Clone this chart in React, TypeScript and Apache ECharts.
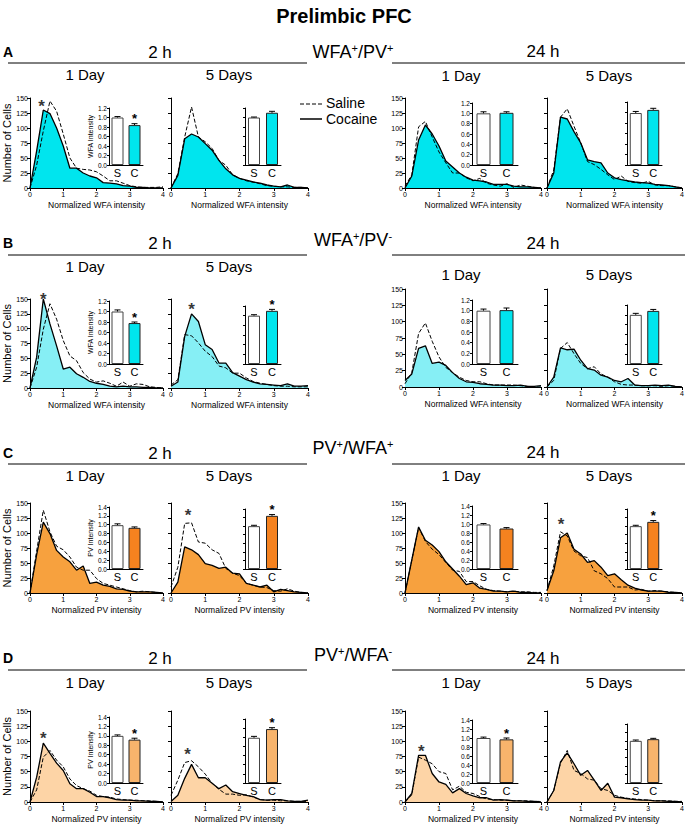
import React, { useEffect, useRef } from "react";
import * as echarts from "echarts";

// ---------- DATA ----------
const xBins = [0, 0.2, 0.4, 0.6, 0.8, 1.0, 1.2, 1.4, 1.6, 1.8, 2.0, 2.2, 2.4, 2.6, 2.8, 3.0, 3.2, 3.4, 3.6, 3.8, 4.0];

// Row A: WFA+/PV+
const a1Cocaine = [0, 62, 130, 124, 100, 70, 33, 33, 25, 20, 17, 9, 8, 7, 4, 3, 1, 1, 0, 0, 0];
const a1Saline = [0, 38, 95, 145, 128, 90, 50, 33, 31, 30, 27, 20, 12, 12, 8, 4, 2, 1, 1, 1, 2];
const a2Cocaine = [0, 21, 82, 90, 85, 74, 63, 46, 32, 22, 16, 13, 10, 8, 5, 3, 2, 5, 1, 1, 0];
const a2Saline = [0, 24, 85, 135, 85, 77, 66, 46, 38, 22, 16, 12, 10, 7, 4, 3, 2, 2, 1, 1, 0];
const a3Cocaine = [0, 20, 80, 105, 90, 70, 45, 35, 25, 18, 13, 12, 10, 6, 6, 6, 3, 2, 2, 1, 0];
const a3Saline = [3, 22, 102, 111, 85, 60, 42, 25, 25, 17, 12, 16, 8, 5, 3, 7, 1, 5, 3, 1, 0];
const a4Cocaine = [0, 25, 118, 115, 94, 75, 47, 44, 42, 25, 17, 14, 12, 10, 9, 8, 6, 5, 4, 2, 0];
const a4Saline = [0, 30, 118, 132, 103, 75, 44, 39, 31, 22, 14, 20, 11, 9, 8, 11, 5, 4, 4, 2, 0];

// Row B: WFA+/PV-
const b1Cocaine = [0, 52, 150, 108, 71, 32, 35, 24, 18, 11, 8, 6, 3, 2, 3, 2, 2, 1, 1, 0, 0];
const b1Saline = [0, 35, 99, 142, 116, 80, 54, 46, 26, 15, 10, 12, 8, 3, 10, 3, 7, 6, 2, 1, 0];
const b2Cocaine = [3, 10, 87, 125, 112, 73, 65, 42, 42, 26, 20, 14, 10, 7, 6, 5, 4, 7, 3, 3, 4];
const b2Saline = [5, 14, 90, 88, 76, 62, 53, 37, 34, 25, 25, 17, 11, 8, 6, 4, 3, 3, 2, 2, 2];
const b3Cocaine = [10, 20, 59, 63, 36, 38, 33, 22, 13, 8, 7, 5, 4, 3, 3, 2, 2, 3, 1, 1, 2];
const b3Saline = [5, 22, 82, 98, 70, 46, 30, 22, 15, 10, 8, 8, 5, 3, 3, 3, 3, 2, 1, 0, 0];
const b4Cocaine = [0, 15, 60, 57, 58, 41, 28, 26, 18, 15, 10, 8, 13, 3, 2, 2, 3, 2, 3, 1, 0];
const b4Saline = [0, 10, 59, 68, 51, 36, 28, 31, 20, 15, 8, 4, 3, 3, 2, 2, 2, 1, 2, 1, 0];

// Row C: PV+/WFA+
const c1Cocaine = [0, 64, 118, 99, 71, 60, 52, 38, 45, 16, 18, 13, 11, 7, 6, 3, 2, 2, 2, 1, 0];
const c1Saline = [0, 70, 138, 102, 78, 72, 60, 43, 38, 38, 24, 16, 13, 10, 7, 4, 2, 3, 2, 1, 0];
const c2Cocaine = [0, 18, 77, 72, 64, 49, 46, 41, 43, 33, 32, 16, 13, 10, 13, 2, 6, 4, 2, 1, 0];
const c2Saline = [10, 43, 116, 117, 85, 83, 72, 66, 41, 33, 29, 16, 13, 10, 9, 4, 3, 7, 3, 1, 0];
const c3Cocaine = [0, 55, 110, 88, 80, 69, 52, 40, 28, 14, 17, 8, 6, 3, 3, 2, 3, 1, 1, 0, 0];
const c3Saline = [0, 55, 109, 86, 73, 64, 51, 38, 36, 19, 19, 12, 6, 4, 3, 2, 3, 2, 2, 1, 1];
const c4Cocaine = [4, 37, 92, 100, 73, 65, 51, 54, 43, 29, 32, 22, 13, 8, 5, 3, 3, 3, 1, 1, 0];
const c4Saline = [4, 45, 102, 95, 70, 62, 59, 37, 32, 24, 10, 10, 10, 5, 6, 3, 4, 3, 2, 1, 0];

// Row D: PV+/WFA-
const d1Cocaine = [0, 41, 97, 80, 64, 52, 30, 22, 22, 16, 9, 9, 7, 4, 3, 3, 2, 2, 1, 1, 0];
const d1Saline = [0, 20, 74, 85, 69, 58, 38, 27, 22, 18, 11, 9, 8, 5, 4, 3, 3, 2, 2, 1, 0];
const d2Cocaine = [1, 11, 39, 62, 40, 40, 31, 22, 28, 17, 14, 11, 9, 4, 3, 4, 4, 2, 1, 1, 3];
const d2Saline = [11, 36, 65, 68, 58, 46, 31, 21, 13, 13, 11, 12, 8, 4, 3, 3, 2, 2, 1, 1, 1];
const d3Cocaine = [0, 14, 77, 77, 47, 33, 29, 15, 22, 14, 10, 7, 7, 3, 4, 3, 2, 2, 1, 1, 0];
const d3Saline = [0, 12, 74, 69, 63, 50, 47, 20, 26, 16, 14, 9, 5, 4, 3, 3, 2, 2, 2, 1, 1];
const d4Cocaine = [0, 19, 66, 81, 63, 44, 52, 36, 19, 31, 8, 7, 5, 4, 3, 3, 2, 2, 1, 1, 0];
const d4Saline = [0, 19, 64, 85, 52, 47, 38, 36, 22, 19, 11, 8, 6, 5, 4, 3, 2, 2, 2, 1, 1];

// Inset bar values [Saline, Cocaine] per panel column
const insetCategories = ["S", "C"];
const insetA = [[1.0, 0.84], [1.0, 1.1], [1.0, 1.01], [0.99, 1.05]];
const insetB = [[1.0, 0.78], [1.0, 1.1], [1.0, 1.01], [1.0, 1.08]];
const insetC = [[0.99, 0.93], [1.0, 1.24], [0.99, 0.9], [1.0, 1.1]];
const insetD = [[1.0, 0.92], [0.99, 1.18], [1.0, 0.97], [1.0, 1.04]];
const insetErrA = [[0.02, 0.03], [0.01, 0.03], [0.03, 0.02], [0.03, 0.03]];
const insetErrB = [[0.03, 0.02], [0.02, 0.03], [0.03, 0.04], [0.03, 0.03]];
const insetErrC = [[0.03, 0.02], [0.02, 0.03], [0.02, 0.02], [0.02, 0.03]];
const insetErrD = [[0.02, 0.03], [0.03, 0.03], [0.02, 0.03], [0.02, 0.02]];
const insetStarA = [1, 0, 0, 0];
const insetStarB = [1, 1, 0, 0];
const insetStarC = [0, 1, 0, 1];
const insetStarD = [1, 1, 1, 0];

// Histogram significance stars [x, count]
const histStarA = [[0.35, 144], null, null, null];
const histStarB = [[0.4, 158], [0.6, 141], null, null];
const histStarC = [null, [0.5, 137], null, [0.42, 122]];
const histStarD = [[0.4, 113], [0.48, 87], [0.48, 91], null];

const yAxisTitle = "Number of Cells";
const timeLabels = ["2 h", "24 h"];
const dayLabels = ["1 Day", "5 Days"];
const rowLetters = ["A", "B", "C", "D"];
const markerParts = [
  ["WFA", "+", "/PV", "+"],
  ["WFA", "+", "/PV", "-"],
  ["PV", "+", "/WFA", "+"],
  ["PV", "+", "/WFA", "-"],
];
const measureNames = ["WFA", "WFA", "PV", "PV"];
const legendNames = ["Saline", "Cocaine"];

// ---------- LAYOUT / STYLE ----------
const FONT = "'Liberation Sans', Arial, Helvetica, sans-serif";
const FILL = ["#00e5ee", "#86eff5", "#f7a13e", "#fdd4a6"];
const BARC = ["#00e5ee", "#00e5ee", "#f5821f", "#f8b46c"];
const INSET_MAX = [1.2, 1.2, 1.4, 1.4];

const HIST_L = [30, 171, 405, 547];
const HIST_W = [133, 137, 136, 135];
const HIST_TB = [
  [[98, 188], [98, 188], [98, 188], [98, 188]],
  [[299, 388], [299, 388], [289, 387], [289, 387]],
  [[503, 593], [503, 593], [503, 593], [503, 593]],
  [[711, 802], [711, 802], [711, 802], [711, 802]],
];
const INSET_L = [109, 245, 472, 627];
const INSET_W = [34, 36, 46, 35];
const INSET_BW = [12, 12, 14, 12];
const INSET_T = [
  [108, 108, 103, 102],
  [301, 306, 300, 305],
  [507, 509, 506, 509],
  [717, 719, 720, 724],
];
const INSET_B = [165, 364, 569, 783];

const LETTER_Y = [52, 243, 453, 658];
const MARKER_Y = [52, 240, 448, 655];
const TIME_Y = [[52, 51], [243, 243], [453, 452], [658, 658]];
const LINE_Y = [63, 255, 464, 670];
const DAY_Y = [[74, 75], [266, 274], [475, 475], [682, 682]];
const DAY_X = [85, 229, 461, 609];

const histData = [
  [[a1Saline, a1Cocaine], [a2Saline, a2Cocaine], [a3Saline, a3Cocaine], [a4Saline, a4Cocaine]],
  [[b1Saline, b1Cocaine], [b2Saline, b2Cocaine], [b3Saline, b3Cocaine], [b4Saline, b4Cocaine]],
  [[c1Saline, c1Cocaine], [c2Saline, c2Cocaine], [c3Saline, c3Cocaine], [c4Saline, c4Cocaine]],
  [[d1Saline, d1Cocaine], [d2Saline, d2Cocaine], [d3Saline, d3Cocaine], [d4Saline, d4Cocaine]],
];
const insetVals = [insetA, insetB, insetC, insetD];
const insetErrs = [insetErrA, insetErrB, insetErrC, insetErrD];
const insetStars = [insetStarA, insetStarB, insetStarC, insetStarD];
const histStars = [histStarA, histStarB, histStarC, histStarD];

function buildOption() {
  const grids: any[] = [];
  const xAxes: any[] = [];
  const yAxes: any[] = [];
  const series: any[] = [];
  const black = "#000";

  for (let r = 0; r < 4; r++) {
    for (let c = 0; c < 4; c++) {
      // ---- histogram ----
      const gi = grids.length;
      const [top, bottom] = HIST_TB[r][c];
      grids.push({ left: HIST_L[c], top, width: HIST_W[c], height: bottom - top, outerBoundsMode: "none", containLabel: false });
      xAxes.push({
        gridIndex: gi, type: "value", min: 0, max: 4, interval: 1,
        axisLine: { show: true, lineStyle: { color: black, width: 1 } },
        axisTick: { show: true, length: 3, lineStyle: { color: black, width: 1 } },
        axisLabel: { fontSize: 7, margin: 3, color: black, fontFamily: FONT },
        splitLine: { show: false },
        name: "Normalized " + measureNames[r] + " intensity",
        nameLocation: "middle", nameGap: 12,
        nameTextStyle: { fontSize: 8.5, color: black, fontFamily: FONT },
      });
      const showY = c === 0 || c === 2;
      yAxes.push({
        gridIndex: gi, type: "value", min: 0, max: 150, interval: 25,
        axisLine: { show: true, lineStyle: { color: black, width: 1 } },
        axisTick: { show: true, length: 3, lineStyle: { color: black, width: 1 } },
        axisLabel: { show: showY, fontSize: 7, margin: 2, color: black, fontFamily: FONT },
        splitLine: { show: false },
        name: c === 0 ? yAxisTitle : "",
        nameLocation: "middle", nameGap: 17,
        nameTextStyle: { fontSize: 11, color: black, fontFamily: FONT },
      });
      const [sal, coc] = histData[r][c];
      series.push({
        type: "line", xAxisIndex: gi, yAxisIndex: gi, symbol: "none",
        data: xBins.map((x, i) => [x, coc[i]]),
        lineStyle: { color: black, width: 1.3 },
        areaStyle: { color: FILL[r], opacity: 1 },
        z: 2, silent: true,
      });
      series.push({
        type: "line", xAxisIndex: gi, yAxisIndex: gi, symbol: "none",
        data: xBins.map((x, i) => [x, sal[i]]),
        lineStyle: { color: black, width: 1, type: [4, 2] },
        z: 3, silent: true,
      });
      const st = histStars[r][c];
      if (st) {
        series.push({
          type: "scatter", xAxisIndex: gi, yAxisIndex: gi, clip: false,
          data: [st], symbolSize: 1, itemStyle: { color: "rgba(0,0,0,0)" },
          label: { show: true, formatter: "*", position: "inside", offset: [0, 5], fontSize: 17, fontWeight: "bold", color: black, fontFamily: FONT },
          z: 4, silent: true,
        });
      }

      // ---- inset ----
      const ii = grids.length;
      grids.push({ left: INSET_L[c], top: INSET_T[r][c], width: INSET_W[c], height: INSET_B[r] - INSET_T[r][c], outerBoundsMode: "none", containLabel: false });
      xAxes.push({
        gridIndex: ii, type: "category", data: insetCategories,
        axisLine: { show: true, lineStyle: { color: black, width: 1 } },
        axisTick: { show: false },
        axisLabel: { fontSize: 11, margin: 2, color: black, fontFamily: FONT },
        splitLine: { show: false },
      });
      yAxes.push({
        gridIndex: ii, type: "value", min: 0, max: INSET_MAX[r], interval: 0.2,
        axisLine: { show: true, lineStyle: { color: black, width: 1 } },
        axisTick: { show: true, length: 2, lineStyle: { color: black, width: 1 } },
        axisLabel: { show: showY, fontSize: 6.5, margin: 2, color: black, fontFamily: FONT, formatter: (v: number) => v.toFixed(1) },
        splitLine: { show: false },
        name: c === 0 ? measureNames[r] + " Intensity" : "",
        nameLocation: "middle", nameGap: 13,
        nameTextStyle: { fontSize: 7, color: black, fontFamily: FONT },
      });
      const [sv, cv] = insetVals[r][c];
      series.push({
        type: "bar", xAxisIndex: ii, yAxisIndex: ii, barWidth: INSET_BW[c],
        data: [
          { value: sv, itemStyle: { color: "#fff", borderColor: "#444", borderWidth: 1 } },
          { value: cv, itemStyle: { color: BARC[r], borderColor: "#222", borderWidth: 1 } },
        ],
        z: 2, silent: true,
      });
      const [se, ce] = insetErrs[r][c];
      series.push({
        type: "custom", xAxisIndex: ii, yAxisIndex: ii, silent: true, z: 5,
        data: [[0, sv, se, 0], [1, cv, ce, insetStars[r][c]]],
        renderItem: (params: any, api: any) => {
          const i = api.value(0);
          const v = api.value(1);
          const e = api.value(2);
          const s = api.value(3);
          const p0 = api.coord([i, v]);
          const p1 = api.coord([i, v + e]);
          const children: any[] = [
            { type: "line", shape: { x1: p0[0], y1: p0[1], x2: p1[0], y2: p1[1] }, style: { stroke: black, lineWidth: 1 } },
            { type: "line", shape: { x1: p1[0] - 3, y1: p1[1], x2: p1[0] + 3, y2: p1[1] }, style: { stroke: black, lineWidth: 1 } },
          ];
          if (s) {
            children.push({
              type: "text", x: p1[0], y: p1[1] - 5,
              style: { text: "*", fontSize: 13, fontWeight: "bold", fontFamily: FONT, fill: black, align: "center", verticalAlign: "middle" },
            });
          }
          return { type: "group", children };
        },
      });
    }
  }

  // ---- graphic headings ----
  const graphic: any[] = [];
  const txt = (x: number, y: number, text: string, size: number, extra: any = {}) => ({
    type: "text", x, y, silent: true,
    style: { text, fontSize: size, fontFamily: FONT, fill: "#000", align: "center", verticalAlign: "middle", ...extra },
  });
  graphic.push(txt(344, 16, "Prelimbic PFC", 20, { fontWeight: "bold" }));
  for (let r = 0; r < 4; r++) {
    graphic.push(txt(3, LETTER_Y[r], rowLetters[r], 14, { fontWeight: "bold", align: "left" }));
    graphic.push(txt(160, TIME_Y[r][0], timeLabels[0], 17));
    graphic.push(txt(543, TIME_Y[r][1], timeLabels[1], 17));
    const m = markerParts[r];
    graphic.push({
      type: "text", x: 353, y: MARKER_Y[r], silent: true,
      style: {
        text: `{n|${m[0]}}{s|${m[1]}}{n|${m[2]}}{s|${m[3]}}`,
        align: "center", verticalAlign: "middle",
        rich: {
          n: { fontSize: 18, fontFamily: FONT, fill: "#000", lineHeight: 20 },
          s: { fontSize: 11, fontFamily: FONT, fill: "#000", verticalAlign: "top", lineHeight: 20, padding: [0, 0, 8, 0] },
        },
      },
    });
    graphic.push({ type: "line", silent: true, shape: { x1: 8, y1: LINE_Y[r], x2: 307, y2: LINE_Y[r] }, style: { stroke: "#000", lineWidth: 1 } });
    graphic.push({ type: "line", silent: true, shape: { x1: 392, y1: LINE_Y[r], x2: 685, y2: LINE_Y[r] }, style: { stroke: "#000", lineWidth: 1 } });
    for (let c = 0; c < 4; c++) {
      graphic.push(txt(DAY_X[c], DAY_Y[r][c < 2 ? 0 : 1], dayLabels[c % 2], 15));
    }
  }
  // legend
  graphic.push({ type: "line", silent: true, shape: { x1: 300, y1: 104, x2: 322, y2: 104 }, style: { stroke: "#000", lineWidth: 1, lineDash: [4, 2] } });
  graphic.push({ type: "line", silent: true, shape: { x1: 300, y1: 119, x2: 322, y2: 119 }, style: { stroke: "#000", lineWidth: 1.5 } });
  graphic.push(txt(326, 103, legendNames[0], 14, { align: "left" }));
  graphic.push(txt(326, 119, legendNames[1], 14, { align: "left" }));

  return {
    animation: false,
    backgroundColor: "#fff",
    textStyle: { fontFamily: FONT },
    grid: grids,
    xAxis: xAxes,
    yAxis: yAxes,
    series,
    graphic,
  };
}

export default function App() {
  const ref = useRef<HTMLDivElement>(null);
  useEffect(() => {
    document.body.style.margin = "0";
    if (!ref.current) return;
    const chart = echarts.init(ref.current, undefined, { renderer: "svg" });
    chart.setOption(buildOption() as any);
    return () => chart.dispose();
  }, []);
  return <div ref={ref} style={{ width: 688, height: 827 }} />;
}
